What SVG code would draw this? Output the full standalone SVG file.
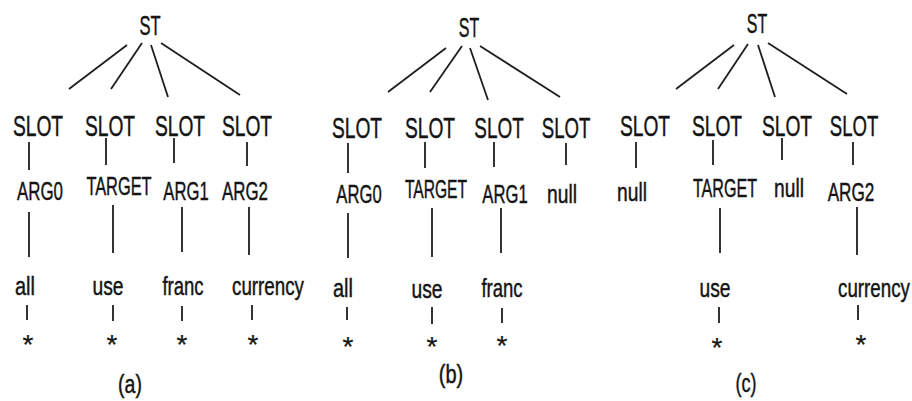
<svg xmlns="http://www.w3.org/2000/svg" width="912" height="401" viewBox="0 0 912 401">
<style>
text{font-family:"Liberation Sans",Arial,sans-serif;fill:#141414;stroke:#141414;stroke-width:0.45;text-anchor:middle}
.st{font-size:28px}
.slot{font-size:30px}
.arg{font-size:26px}
.w{font-size:25px}
.star{font-size:28px;stroke-width:0.2}
.cap{font-size:25px}
line{stroke:#1e1e1e;stroke-width:1.8;stroke-linecap:butt}
</style>
<rect width="912" height="401" fill="#ffffff"/>
<g id="connectors">
<line x1="127" y1="45" x2="69" y2="89"/>
<line x1="142" y1="43" x2="111" y2="89"/>
<line x1="151" y1="45" x2="168" y2="97"/>
<line x1="161" y1="43" x2="240" y2="95"/>
<line x1="29" y1="142" x2="29" y2="170"/>
<line x1="106" y1="138" x2="106" y2="165"/>
<line x1="174" y1="138" x2="174" y2="163"/>
<line x1="247" y1="142" x2="247" y2="166"/>
<line x1="29" y1="212" x2="29" y2="257"/>
<line x1="113" y1="205" x2="113" y2="253"/>
<line x1="182" y1="207" x2="182" y2="252"/>
<line x1="249" y1="207" x2="249" y2="255"/>
<line x1="27" y1="305" x2="27" y2="320"/>
<line x1="113" y1="305" x2="113" y2="321"/>
<line x1="182" y1="306" x2="182" y2="321"/>
<line x1="252" y1="305" x2="252" y2="320"/>
<line x1="446" y1="48" x2="388" y2="92"/>
<line x1="462" y1="46" x2="430" y2="92"/>
<line x1="470" y1="48" x2="488" y2="100"/>
<line x1="480" y1="46" x2="560" y2="97"/>
<line x1="348" y1="143" x2="348" y2="173"/>
<line x1="425" y1="142" x2="425" y2="168"/>
<line x1="494" y1="142" x2="494" y2="167"/>
<line x1="566" y1="143" x2="566" y2="165"/>
<line x1="348" y1="213" x2="348" y2="258"/>
<line x1="432" y1="208" x2="432" y2="257"/>
<line x1="501" y1="208" x2="501" y2="253"/>
<line x1="347" y1="307" x2="347" y2="320"/>
<line x1="432" y1="307" x2="432" y2="324"/>
<line x1="502" y1="308" x2="502" y2="323"/>
<line x1="734" y1="45" x2="676" y2="89"/>
<line x1="748" y1="44" x2="718" y2="89"/>
<line x1="758" y1="45" x2="775" y2="97"/>
<line x1="768" y1="43" x2="847" y2="94"/>
<line x1="636" y1="142" x2="636" y2="168"/>
<line x1="713" y1="140" x2="713" y2="165"/>
<line x1="782" y1="138" x2="782" y2="160"/>
<line x1="853" y1="142" x2="853" y2="165"/>
<line x1="720" y1="208" x2="720" y2="253"/>
<line x1="857" y1="207" x2="857" y2="255"/>
<line x1="719" y1="307" x2="719" y2="323"/>
<line x1="858" y1="305" x2="858" y2="320"/>
</g>
<g id="a-st"><text class="st" transform="translate(150 35) scale(0.59 1)">ST</text></g>
<g id="a-slot1"><text class="slot" transform="translate(38 136) scale(0.64 1)">SLOT</text></g>
<g id="a-slot2"><text class="slot" transform="translate(110 136) scale(0.64 1)">SLOT</text></g>
<g id="a-slot3"><text class="slot" transform="translate(180 136) scale(0.64 1)">SLOT</text></g>
<g id="a-slot4"><text class="slot" transform="translate(247 136) scale(0.64 1)">SLOT</text></g>
<g id="a-arg0"><text class="arg" transform="translate(40 200) scale(0.65 1)">ARG0</text></g>
<g id="a-target"><text class="arg" transform="translate(119 195) scale(0.63 1)">TARGET</text></g>
<g id="a-arg1"><text class="arg" transform="translate(186 200) scale(0.64 1)">ARG1</text></g>
<g id="a-arg2"><text class="arg" transform="translate(245 200) scale(0.65 1)">ARG2</text></g>
<g id="a-all"><text class="w" transform="translate(25 295) scale(0.8 1)">all</text></g>
<g id="a-use"><text class="w" transform="translate(108 295) scale(0.77 1)">use</text></g>
<g id="a-franc"><text class="w" transform="translate(183 295) scale(0.74 1)">franc</text></g>
<g id="a-currency"><text class="w" transform="translate(268 295) scale(0.75 1)">currency</text></g>
<g id="a-star1"><text class="star" x="28" y="354">*</text></g>
<g id="a-star2"><text class="star" x="112" y="354">*</text></g>
<g id="a-star3"><text class="star" x="182" y="354">*</text></g>
<g id="a-star4"><text class="star" x="253" y="354">*</text></g>
<g id="label-a"><text class="cap" transform="translate(130 393) scale(0.78 1)">(a)</text></g>
<g id="b-st"><text class="st" transform="translate(469 37) scale(0.57 1)">ST</text></g>
<g id="b-slot1"><text class="slot" transform="translate(357 138) scale(0.64 1)">SLOT</text></g>
<g id="b-slot2"><text class="slot" transform="translate(430 138) scale(0.64 1)">SLOT</text></g>
<g id="b-slot3"><text class="slot" transform="translate(499 138) scale(0.63 1)">SLOT</text></g>
<g id="b-slot4"><text class="slot" transform="translate(566 138) scale(0.62 1)">SLOT</text></g>
<g id="b-arg0"><text class="arg" transform="translate(359 203) scale(0.64 1)">ARG0</text></g>
<g id="b-target"><text class="arg" transform="translate(436 198) scale(0.6 1)">TARGET</text></g>
<g id="b-arg1"><text class="arg" transform="translate(505 203) scale(0.64 1)">ARG1</text></g>
<g id="b-null"><text class="arg" transform="translate(562 203) scale(0.74 1)">null</text></g>
<g id="b-all"><text class="w" transform="translate(343 297) scale(0.8 1)">all</text></g>
<g id="b-use"><text class="w" transform="translate(427 298) scale(0.77 1)">use</text></g>
<g id="b-franc"><text class="w" transform="translate(502 297) scale(0.74 1)">franc</text></g>
<g id="b-star1"><text class="star" x="348" y="356">*</text></g>
<g id="b-star2"><text class="star" x="432" y="356">*</text></g>
<g id="b-star3"><text class="star" x="502" y="355">*</text></g>
<g id="label-b"><text class="cap" transform="translate(451 383) scale(0.8 1)">(b)</text></g>
<g id="c-st"><text class="st" transform="translate(757 33) scale(0.57 1)">ST</text></g>
<g id="c-slot1"><text class="slot" transform="translate(645 136) scale(0.64 1)">SLOT</text></g>
<g id="c-slot2"><text class="slot" transform="translate(717 136) scale(0.64 1)">SLOT</text></g>
<g id="c-slot3"><text class="slot" transform="translate(787 136) scale(0.64 1)">SLOT</text></g>
<g id="c-slot4"><text class="slot" transform="translate(854 136) scale(0.62 1)">SLOT</text></g>
<g id="c-null1"><text class="arg" transform="translate(632 201) scale(0.74 1)">null</text></g>
<g id="c-target"><text class="arg" transform="translate(725 197) scale(0.62 1)">TARGET</text></g>
<g id="c-null2"><text class="arg" transform="translate(789 197) scale(0.74 1)">null</text></g>
<g id="c-arg2"><text class="arg" transform="translate(851 201) scale(0.66 1)">ARG2</text></g>
<g id="c-use"><text class="w" transform="translate(715 297) scale(0.77 1)">use</text></g>
<g id="c-currency"><text class="w" transform="translate(874 297) scale(0.75 1)">currency</text></g>
<g id="c-star1"><text class="star" x="717" y="357">*</text></g>
<g id="c-star2"><text class="star" x="861" y="354">*</text></g>
<g id="label-c"><text class="cap" transform="translate(746 392) scale(0.72 1)">(c)</text></g>
</svg>
